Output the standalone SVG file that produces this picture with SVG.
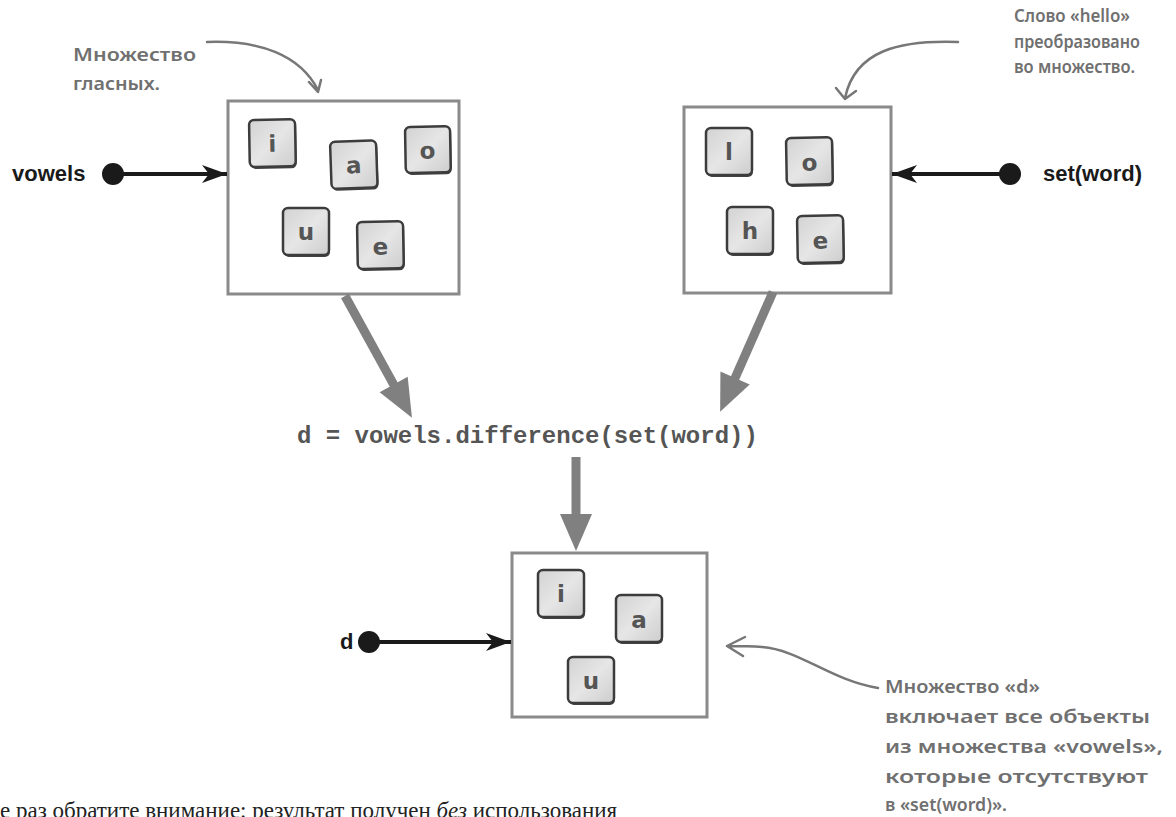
<svg xmlns="http://www.w3.org/2000/svg" width="1176" height="817" viewBox="0 0 1176 817">
<style>
.box{fill:#fff;stroke:#8a8a8a;stroke-width:3}
.tile .sh{fill:#444;stroke:none}
.tile .face{fill:url(#tg);stroke:#3c3c3c;stroke-width:2.5}
.tile text{font-family:"DejaVu Sans","Noto Sans",sans-serif;font-size:23px;font-weight:bold;fill:#555;text-anchor:middle}
.note{font-family:"Noto Sans","DejaVu Sans",sans-serif;font-size:18px;font-weight:600;fill:#707070}
.noteline{fill:none;stroke:#777;stroke-width:2.5;stroke-linecap:round;stroke-linejoin:round}
.lbl{font-family:"Liberation Sans",Arial,sans-serif;font-weight:bold;font-size:22px;fill:#1a1a1a}
.blk{stroke:#1a1a1a;stroke-width:4}
.gray{stroke:#808080;stroke-width:9}
.grayhead{fill:#808080}
.code{font-family:"Liberation Mono","Courier New",monospace;font-weight:bold;font-size:24px;fill:#555}
</style>
<defs>
<linearGradient id="tg" x1="0" y1="0" x2="1" y2="1">
<stop offset="0" stop-color="#d2d2d2"/>
<stop offset="0.5" stop-color="#e6e6e6"/>
<stop offset="1" stop-color="#cdcdcd"/>
</linearGradient>
<marker id="bh" viewBox="-26 -10 28 20" refX="0" refY="0" markerWidth="28" markerHeight="20" markerUnits="userSpaceOnUse" orient="auto">
<polygon points="0,0 -25,-9 -18,0 -25,9" fill="#1a1a1a"/>
</marker>
</defs>

<g id="note-vowels">
<text class="note" x="73" y="61" textLength="123" lengthAdjust="spacingAndGlyphs">Множество</text>
<text class="note" x="73" y="90" textLength="87" lengthAdjust="spacingAndGlyphs">гласных.</text>
<path class="noteline" d="M207,42 C260,40 300,55 318,90 M309,82 L318,92 L321,80"/>
</g>

<g id="note-hello">
<text class="note" x="1014" y="22" textLength="116" lengthAdjust="spacingAndGlyphs">Слово «hello»</text>
<text class="note" x="1014" y="48" textLength="126" lengthAdjust="spacingAndGlyphs">преобразовано</text>
<text class="note" x="1014" y="73" textLength="121" lengthAdjust="spacingAndGlyphs">во множество.</text>
<path class="noteline" d="M958,42 C900,40 855,50 845,98 M836,88 L845,99 L856,91"/>
</g>

<g id="note-d">
<text class="note" x="885" y="693" textLength="155" lengthAdjust="spacingAndGlyphs">Множество «d»</text>
<text class="note" x="885" y="723" textLength="265" lengthAdjust="spacingAndGlyphs">включает все объекты</text>
<text class="note" x="885" y="753" textLength="278" lengthAdjust="spacingAndGlyphs">из множества «vowels»,</text>
<text class="note" x="885" y="783" textLength="263" lengthAdjust="spacingAndGlyphs">которые отсутствуют</text>
<text class="note" x="885" y="811" textLength="122" lengthAdjust="spacingAndGlyphs">в «set(word)».</text>
<path class="noteline" d="M878,688 C830,680 800,650 762,647 C750,646 738,646 727,646 M745,637 L727,646 L743,656"/>
</g>

<g id="vowels-set">
<rect class="box" x="228" y="101" width="231" height="193"/>
<g class="tile" transform="translate(249,120) rotate(-1)"><rect class="sh" x="1" y="2" width="46" height="47" rx="5"/><rect class="face" width="46" height="47" rx="5"/><text x="23" y="32">i</text></g>
<g class="tile" transform="translate(330,142) rotate(-2)"><rect class="sh" x="1" y="2" width="46" height="47" rx="5"/><rect class="face" width="46" height="47" rx="5"/><text x="23" y="32">a</text></g>
<g class="tile" transform="translate(405,127) rotate(-1)"><rect class="sh" x="1" y="2" width="45" height="46" rx="5"/><rect class="face" width="45" height="46" rx="5"/><text x="22" y="32">o</text></g>
<g class="tile" transform="translate(283,208)"><rect class="sh" x="1" y="2" width="46" height="47" rx="5"/><rect class="face" width="46" height="47" rx="5"/><text x="23" y="32">u</text></g>
<g class="tile" transform="translate(357,222) rotate(-1)"><rect class="sh" x="1" y="2" width="46" height="47" rx="5"/><rect class="face" width="46" height="47" rx="5"/><text x="23" y="33">e</text></g>
</g>

<g id="word-set">
<rect class="box" x="684" y="107" width="207" height="186"/>
<g class="tile" transform="translate(706,128)"><rect class="sh" x="1" y="2" width="46" height="47" rx="5"/><rect class="face" width="46" height="47" rx="5"/><text x="23" y="32">l</text></g>
<g class="tile" transform="translate(786,138) rotate(-1)"><rect class="sh" x="1" y="2" width="46" height="47" rx="5"/><rect class="face" width="46" height="47" rx="5"/><text x="23" y="33">o</text></g>
<g class="tile" transform="translate(727,207)"><rect class="sh" x="1" y="2" width="46" height="47" rx="5"/><rect class="face" width="46" height="47" rx="5"/><text x="23" y="32">h</text></g>
<g class="tile" transform="translate(797,216) rotate(-1)"><rect class="sh" x="1" y="2" width="46" height="47" rx="5"/><rect class="face" width="46" height="47" rx="5"/><text x="23" y="33">e</text></g>
</g>

<g id="d-set">
<rect class="box" x="512" y="553" width="195" height="164"/>
<g class="tile" transform="translate(538,570)"><rect class="sh" x="1" y="2" width="46" height="47" rx="5"/><rect class="face" width="46" height="47" rx="5"/><text x="23" y="32">i</text></g>
<g class="tile" transform="translate(616,595)"><rect class="sh" x="1" y="2" width="46" height="47" rx="5"/><rect class="face" width="46" height="47" rx="5"/><text x="23" y="33">a</text></g>
<g class="tile" transform="translate(568,657)"><rect class="sh" x="1" y="2" width="46" height="46" rx="5"/><rect class="face" width="46" height="46" rx="5"/><text x="23" y="32">u</text></g>
</g>

<g id="code">
<text class="code" x="297" y="443">d = vowels.difference(set(word))</text>
</g>

<g id="label-vowels"><text class="lbl" x="12" y="181">vowels</text><circle cx="113" cy="174" r="11" fill="#1a1a1a"/></g>
<g id="label-setword"><text class="lbl" x="1043" y="181">set(word)</text><circle cx="1010" cy="174" r="11" fill="#1a1a1a"/></g>
<g id="label-d"><text class="lbl" x="340" y="649">d</text><circle cx="369" cy="642" r="11" fill="#1a1a1a"/></g>

<g id="connectors">
<line class="blk" x1="113" y1="174" x2="227" y2="174" marker-end="url(#bh)"/>
<line class="blk" x1="1010" y1="174" x2="892" y2="174" marker-end="url(#bh)"/>
<line class="blk" x1="369" y1="642" x2="511" y2="642" marker-end="url(#bh)"/>
<g transform="translate(345,296) rotate(61.2)"><line class="gray" x1="0" y1="0" x2="108" y2="0"/><polygon class="grayhead" points="139,0 101,-16 101,16"/></g>
<g transform="translate(773,292) rotate(113.8)"><line class="gray" x1="0" y1="0" x2="100" y2="0"/><polygon class="grayhead" points="131,0 94,-16 94,16"/></g>
<g transform="translate(576,457) rotate(90)"><line class="gray" x1="0" y1="0" x2="62" y2="0"/><polygon class="grayhead" points="94,0 57,-16 57,16"/></g>
</g>

<g id="footer">
<text x="0" y="818" font-family="'Liberation Serif','Times New Roman',serif" font-size="23" fill="#222">е раз обратите внимание: результат получен <tspan font-style="italic">без</tspan> использования</text>
</g>
</svg>
